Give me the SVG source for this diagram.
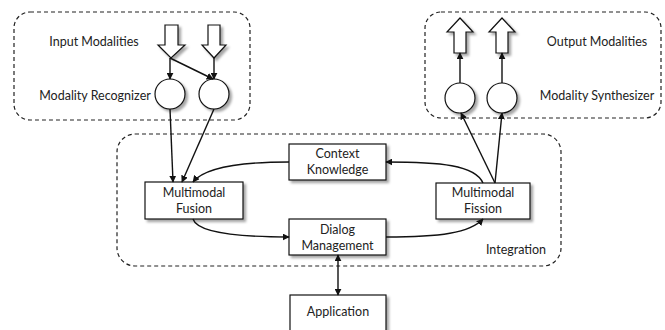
<svg xmlns="http://www.w3.org/2000/svg" width="665" height="330" viewBox="0 0 665 330">
  <style>
    .grp { fill: none; stroke: #222; stroke-width: 1.2; stroke-dasharray: 4 3; }
    .node { fill: #fff; stroke: #111; stroke-width: 1.2; filter: url(#shadow); }
    .conn { fill: none; stroke: #111; stroke-width: 1.4; }
    text { font-family: Lato, "Open Sans", "Liberation Sans", sans-serif; font-size: 12.5px; fill: #222; }
    .c { text-anchor: middle; }
  </style>
  <defs>
    <filter id="shadow" x="-20%" y="-20%" width="150%" height="150%">
      <feDropShadow dx="2.5" dy="2.5" stdDeviation="1" flood-color="#000" flood-opacity="0.35"/>
    </filter>
    <marker id="head" viewBox="0 0 10 10" refX="9" refY="5" markerWidth="7" markerHeight="7" orient="auto-start-reverse" markerUnits="userSpaceOnUse">
      <path d="M0,0 L10,5 L0,10 z" fill="#111"/>
    </marker>
  </defs>

  <!-- dashed group outlines -->
  <rect class="grp" x="14" y="12" width="236" height="108" rx="16"/>
  <rect class="grp" x="425" y="12" width="236" height="106" rx="16"/>
  <rect class="grp" x="117" y="134" width="444" height="132" rx="18"/>

  <text x="94" y="46" class="c">Input Modalities</text>
  <text x="95" y="100" class="c">Modality Recognizer</text>
  <text x="597" y="46" class="c">Output Modalities</text>
  <text x="597" y="100" class="c">Modality Synthesizer</text>
  <text x="516" y="254" class="c">Integration</text>

  <!-- input modality arrows -->
  <g id="input1"><path class="node" d="M165,25 H178 V45 H185 L171,58 L158,45 H165 Z"/></g>
  <g id="input2"><path class="node" d="M208,25 H220 V45 H226 L214,58 L202,45 H208 Z"/></g>

  <!-- output modality arrows -->
  <g id="output1"><path class="node" d="M454,53 V32 H447 L460,18 L473,32 H466 V53 Z"/></g>
  <g id="output2"><path class="node" d="M496,53 V32 H489 L502,18 L515,32 H508 V53 Z"/></g>

  <!-- recognizers and synthesizers -->
  <g id="recognizer1"><circle class="node" cx="170" cy="94" r="15"/></g>
  <g id="recognizer2"><circle class="node" cx="214" cy="94" r="15"/></g>
  <g id="synthesizer1"><circle class="node" cx="460" cy="98" r="15"/></g>
  <g id="synthesizer2"><circle class="node" cx="502" cy="98" r="15"/></g>

  <!-- integration components -->
  <g id="fusion">
    <rect class="node" x="145" y="182" width="98" height="37"/>
    <text x="194" y="197" class="c">Multimodal</text>
    <text x="194" y="213" class="c">Fusion</text>
  </g>
  <g id="context">
    <rect class="node" x="289" y="144" width="97" height="36"/>
    <text x="337.5" y="158" class="c">Context</text>
    <text x="337.5" y="174" class="c">Knowledge</text>
  </g>
  <g id="dialog">
    <rect class="node" x="289" y="219" width="97" height="36"/>
    <text x="337.5" y="234" class="c">Dialog</text>
    <text x="337.5" y="250" class="c">Management</text>
  </g>
  <g id="fission">
    <rect class="node" x="436" y="183" width="94" height="36"/>
    <text x="483" y="197" class="c">Multimodal</text>
    <text x="483" y="213" class="c">Fission</text>
  </g>
  <g id="application">
    <rect class="node" x="290" y="295" width="96" height="40"/>
    <text x="338" y="316" class="c">Application</text>
  </g>

  <!-- connectors -->
  <g id="connectors">
    <path class="conn" d="M170,58 V79" marker-end="url(#head)"/>
    <path class="conn" d="M170,58 L213,79" marker-end="url(#head)"/>
    <path class="conn" d="M214,58 V79" marker-end="url(#head)"/>
    <path class="conn" d="M170,109 L173,182" marker-end="url(#head)"/>
    <path class="conn" d="M214,109 L182,182" marker-end="url(#head)"/>
    <path class="conn" d="M289,162 C240,162 205,167 193,182" marker-end="url(#head)"/>
    <path class="conn" d="M193,219 C198,235 250,237 289,237" marker-end="url(#head)"/>
    <path class="conn" d="M386,237 C440,237 470,233 483,219" marker-end="url(#head)"/>
    <path class="conn" d="M483,183 C475,165 440,162 386,162" marker-end="url(#head)"/>
    <path class="conn" d="M495,183 L461,113" marker-end="url(#head)"/>
    <path class="conn" d="M495,183 L502,113" marker-end="url(#head)"/>
    <path class="conn" d="M460,83 V53" marker-end="url(#head)"/>
    <path class="conn" d="M502,83 V53" marker-end="url(#head)"/>
    <path class="conn" d="M338,255 V295" marker-start="url(#head)" marker-end="url(#head)"/>
  </g>
</svg>
